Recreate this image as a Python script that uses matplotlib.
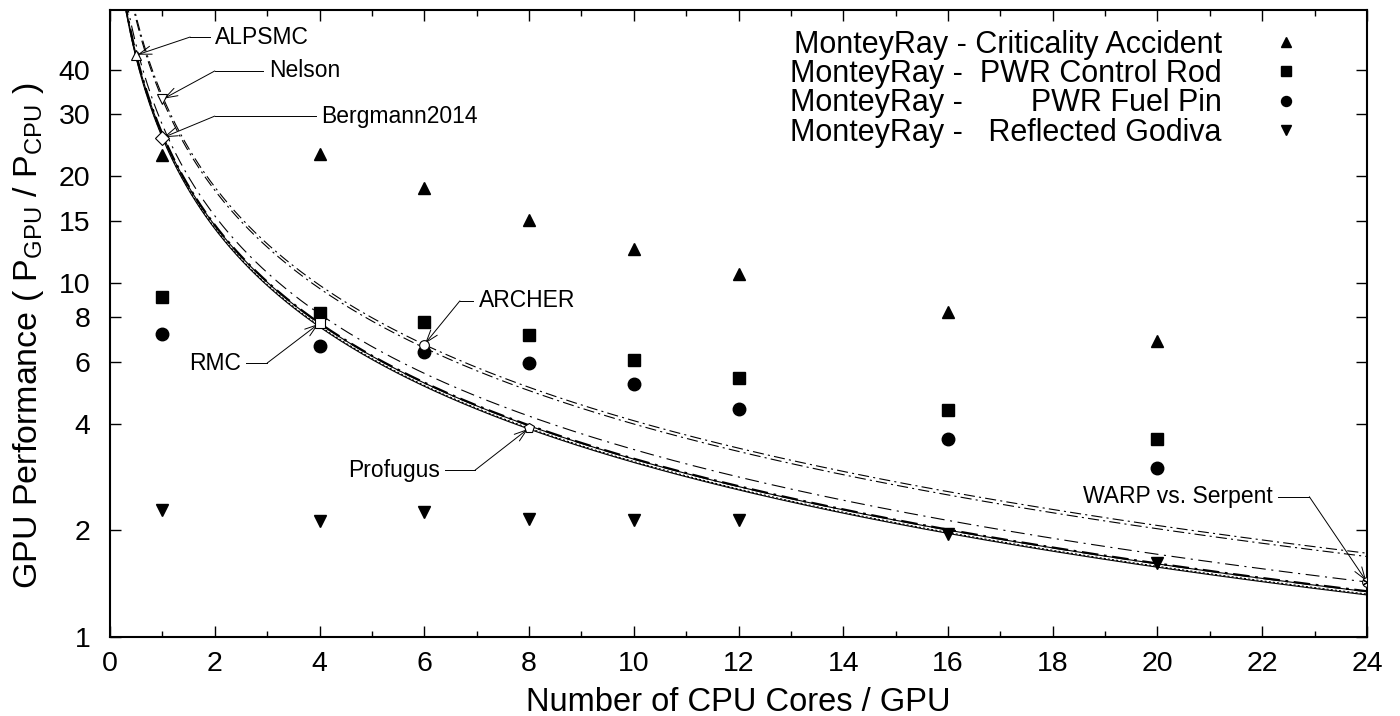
import matplotlib
matplotlib.use('Agg')
import matplotlib.pyplot as plt
import numpy as np

plt.rcParams['font.family'] = ['Liberation Sans', 'DejaVu Sans']
plt.rcParams['mathtext.fontset'] = 'custom'
plt.rcParams['mathtext.rm'] = 'Liberation Sans'
plt.rcParams['mathtext.it'] = 'Liberation Sans'
plt.rcParams['lines.scale_dashes'] = False

# MonteyRay measurements
cores = [1, 4, 6, 8, 10, 12, 16, 20]
crit = [23.0, 23.1, 18.6, 15.1, 12.5, 10.6, 8.28, 6.86]
rod = [9.11, 8.21, 7.78, 7.13, 6.06, 5.39, 4.38, 3.63]
pin = [7.18, 6.64, 6.40, 5.96, 5.19, 4.41, 3.62, 3.00]
godiva = [2.28, 2.12, 2.26, 2.15, 2.14, 2.14, 1.96, 1.615]

labels = ['MonteyRay - Criticality Accident',
          'MonteyRay -  PWR Control Rod',
          'MonteyRay -        PWR Fuel Pin',
          'MonteyRay -   Reflected Godiva']

# published codes (reference points)
ref_names = ['ALPSMC', 'Nelson', 'Bergmann2014', 'ARCHER', 'RMC', 'Profugus', 'WARP vs. Serpent']
ref_x = [0.5, 1, 1, 6, 4, 8, 24]
ref_y = [44, 33, 25.7, 6.7, 7.7, 3.89, 1.43]
ref_marker = ['^', 'v', 'D', 'o', 's', 'p', 'o']
offset = 0.24  # curves follow y0*(x0+b)/(x+b)

# label layout: elbow (x, y), end of horizontal line, text side
lab_elbow = [(1.53, 49.5), (2.0, 39.7), (2.0, 29.6), (6.68, 8.9), (3.0, 5.94), (6.97, 2.96), (22.9, 2.49)]
lab_end = [1.9, 2.93, 3.93, 6.93, 2.6, 6.4, 22.3]
lab_side = ['left', 'left', 'left', 'left', 'right', 'right', 'right']

styles = {
    'ALPSMC': dict(ls='-', lw=0.8),
    'Nelson': dict(ls=(0, (8, 3, 1.5, 3)), lw=0.8),
    'Bergmann2014': dict(ls='-', lw=0.8),
    'ARCHER': dict(ls=(0, (8, 3, 1.5, 3)), lw=0.8),
    'RMC': dict(ls=(0, (12, 4, 2, 4)), lw=1.6),
    'Profugus': dict(ls=(0, (1.5, 1.5)), lw=0.8),
    'WARP vs. Serpent': dict(ls=(0, (10, 4, 1.5, 4)), lw=0.8),
}

fig = plt.figure(figsize=(14, 7.16), dpi=100)
ax = fig.add_axes([0.0786, 0.1103, 0.8978, 0.8757])

xs = np.linspace(0.05, 24, 800)
for i, name in enumerate(ref_names):
    k = ref_y[i] * (ref_x[i] + offset)
    ax.plot(xs, k / (xs + offset), color='black', **styles[name])

for i, name in enumerate(ref_names):
    ax.plot(ref_x[i], ref_y[i], marker=ref_marker[i], ms=7, mfc='white', mec='black', mew=0.8,
            ls='none', zorder=4)
    if name == 'WARP vs. Serpent':
        ax.plot(ref_x[i], ref_y[i], marker=(6, 2, 0), ms=7, mec='black', mew=0.8, ls='none', zorder=5)
    ex, ey = lab_elbow[i]
    ax.annotate('', xy=(ref_x[i], ref_y[i]), xytext=(ex, ey),
                arrowprops=dict(arrowstyle='->,head_length=0.9,head_width=0.3', lw=0.7,
                                color='black', shrinkA=0, shrinkB=1))
    ax.plot([ex, lab_end[i]], [ey, ey], color='black', lw=0.7)
    dx = 4 if lab_side[i] == 'left' else -4
    ax.annotate(name, xy=(lab_end[i], ey), xytext=(dx, 0), textcoords='offset points',
                ha=lab_side[i], va='center', fontsize=16.5)

ax.plot(cores, crit, '^', color='black', ms=9, label=labels[0])
ax.plot(cores, rod, 's', color='black', ms=9, label=labels[1])
ax.plot(cores, pin, 'o', color='black', ms=9, label=labels[2])
ax.plot(cores, godiva, 'v', color='black', ms=9, label=labels[3])

ax.set_yscale('log')
ax.set_xlim(0, 24)
ax.set_ylim(1, 59)
yt = [1, 2, 4, 6, 8, 10, 15, 20, 30, 40]
ax.set_yticks(yt)
ax.set_yticklabels([str(v) for v in yt])
ax.yaxis.set_minor_locator(matplotlib.ticker.NullLocator())
ax.set_xticks(np.arange(0, 25, 2))
ax.set_xticks(np.arange(0, 25, 1), minor=True)
ax.tick_params(which='both', direction='in', top=True, right=True, labelsize=20.5, width=1)
ax.tick_params(which='major', length=8)
ax.tick_params(which='minor', length=4)
ax.tick_params(axis='x', pad=10)
ax.tick_params(axis='y', pad=14)
for s in ax.spines.values():
    s.set_linewidth(1.5)

ax.set_xlabel('Number of CPU Cores / GPU', fontsize=23.5)
ax.set_ylabel('GPU Performance ( P$_{\\mathrm{GPU}}$ / P$_{\\mathrm{CPU}}$ )', fontsize=24.5)
ax.xaxis.set_label_coords(0.5, -0.08)
ax.yaxis.set_label_coords(-0.051, 0.48)

ax.legend(loc='upper right', bbox_to_anchor=(0.977, 0.993), frameon=False, markerfirst=False,
          fontsize=22, handlelength=2.4, handletextpad=0.9, labelspacing=-0.02, borderpad=0,
          markerscale=0.8)

fig.savefig('out.png', dpi=100)
